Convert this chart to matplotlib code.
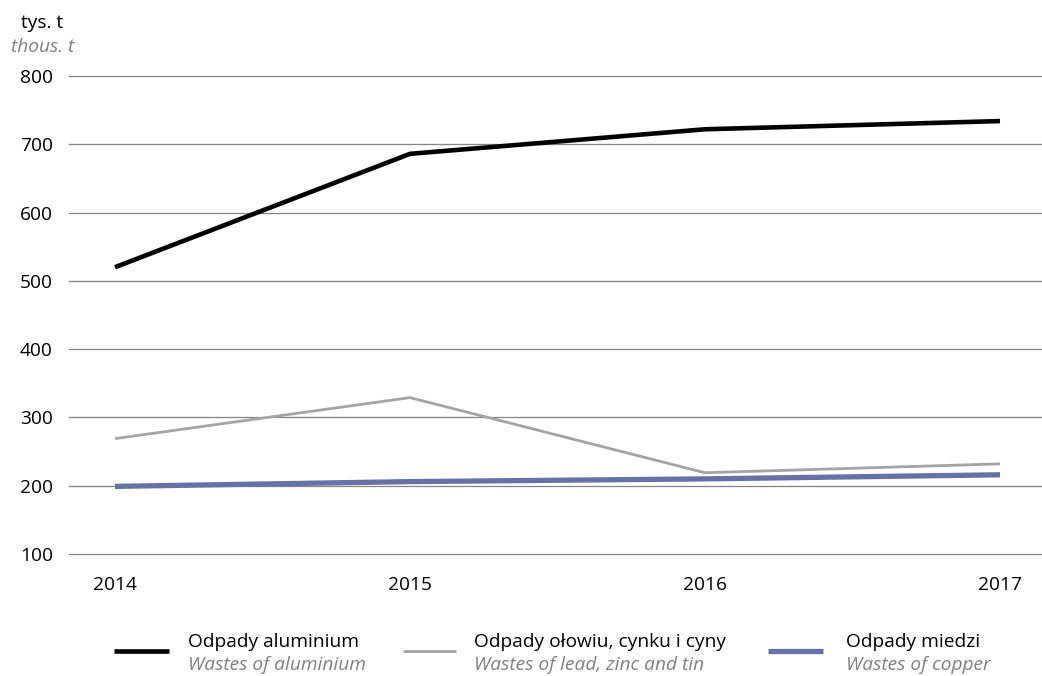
import matplotlib
matplotlib.use("Agg")
import matplotlib.pyplot as plt
from matplotlib.lines import Line2D

plt.rcParams['font.family'] = ['Open Sans', 'DejaVu Sans']

years = [2014, 2015, 2016, 2017]
aluminium = [520, 686, 722, 734]
lead_zinc_tin = [269, 329, 219, 232]
copper = [199, 206, 210, 216]

labels_pl = ["Odpady aluminium", "Odpady ołowiu, cynku i cyny", "Odpady miedzi"]
labels_en = ["Wastes of aluminium", "Wastes of lead, zinc and tin", "Wastes of copper"]
colors = ["#000000", "#a4a4a4", "#6672a6"]
widths = [3.3, 2.0, 3.8]
series = [aluminium, lead_zinc_tin, copper]

FS = 13.8
W, H = 1042, 676

fig = plt.figure(figsize=(W / 100, H / 100), dpi=100)
ax = fig.add_axes([69 / W, 1 - 554 / H, 1 - 69 / W, (554 - 76) / H])

for vals, c, w in zip(series, colors, widths):
    ax.plot(years, vals, color=c, lw=w, solid_capstyle='butt', zorder=3)

ax.set_ylim(100, 800)
ax.set_yticks(range(100, 801, 100))
ax.set_xlim(2014 - 46 / 295, 2017 + 42 / 295)
ax.set_xticks(years)
ax.set_xticklabels([str(y) for y in years])
ax.grid(axis='y', color='#858585', lw=0.9, zorder=0)
for gl in ax.get_ygridlines():
    gl.set_clip_on(False)
for s in ax.spines.values():
    s.set_visible(False)
ax.tick_params(axis='both', length=0, labelsize=FS, colors='#000000')
ax.tick_params(axis='y', pad=11.7)
ax.tick_params(axis='x', pad=16)

# unit label
fig.text(42.5 / W, 1 - 28 / H, "tys. t", ha='center', va='baseline', fontsize=FS)
fig.text(42.5 / W, 1 - 51.5 / H, "thous. t", ha='center', va='baseline', fontsize=FS,
         style='italic', color='#808080')

# legend
leg_line = [(114, 169), (403, 456), (768, 823)]
leg_text = [188, 474, 846]
for i in range(3):
    x0, x1 = leg_line[i]
    fig.add_artist(Line2D([x0 / W, x1 / W], [1 - 651 / H, 1 - 651 / H],
                          color=colors[i], lw=widths[i], solid_capstyle='butt'))
    fig.text(leg_text[i] / W, 1 - 647 / H, labels_pl[i], ha='left', va='baseline', fontsize=FS)
    fig.text(leg_text[i] / W, 1 - 670 / H, labels_en[i], ha='left', va='baseline', fontsize=FS,
             style='italic', color='#808080')

plt.savefig("out.png", dpi=100)
